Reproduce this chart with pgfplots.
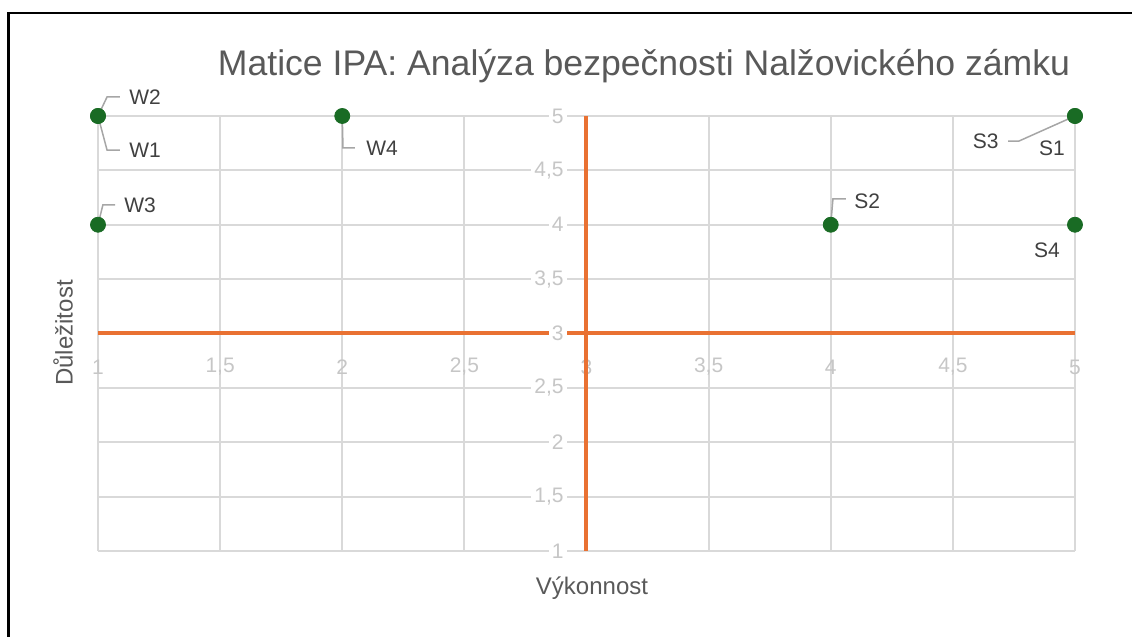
\documentclass[border=0pt]{standalone}
\usepackage{fontspec}
\setmainfont{Liberation Sans}
\usepackage{pgfplots}
\pgfplotsset{compat=1.18}
\definecolor{gridc}{HTML}{D9D9D9}
\definecolor{tickc}{HTML}{C6C6C6}
\definecolor{orangec}{HTML}{E97132}
\definecolor{greenc}{HTML}{196B24}
\definecolor{textc}{HTML}{595959}
\definecolor{leadc}{HTML}{A6A6A6}
\definecolor{labc}{HTML}{404040}
\begin{document}
\begin{tikzpicture}
\draw[line width=1.2pt] (4.25pt,0) -- (4.25pt,312pt) -- (566pt,312pt);
\begin{axis}[
  set layers=standard,
  at={(49pt,43pt)}, anchor=south west, scale only axis,
  width=488.5pt, height=217.5pt,
  xmin=1, xmax=5, ymin=1, ymax=5,
  axis line style={draw=none}, tick style={draw=none},
  xtick={1,1.5,2,2.5,3,3.5,4,4.5,5},
  ytick={1,1.5,2,2.5,3,3.5,4,4.5,5},
  grid=major, grid style={gridc, line width=1pt},
  clip=false,
  /pgf/number format/use comma,
  /pgf/number format/assume math mode=true,
  xticklabel style={anchor=center, yshift=92pt, font=\fontsize{10.5}{12}\selectfont, text=tickc},
  yticklabel style={anchor=east, xshift=234.5pt, fill=white, inner xsep=1.5pt, inner ysep=0.5pt, font=\fontsize{10.5}{12}\selectfont, text=tickc},
]
% quadrant lines at the means
\addplot[on layer=axis ticks, orangec, line width=2pt] coordinates {(1,3) (5,3)};
\addplot[orangec, line width=2pt] coordinates {(3,1) (3,5)};
% data points (Vykonnost, Dulezitost)
\addplot[only marks, mark=*, mark size=3.75pt, color=greenc, mark options={fill=greenc, draw=greenc}] table {
x y
1 5
1 5
1 4
2 5
5 5
4 4
5 5
5 4
};
% leader lines
\draw[leadc, line width=0.75pt] (axis cs:1,5) -- (axis cs:1.037,5.175) -- (axis cs:1.090,5.175);
\draw[leadc, line width=0.75pt] (axis cs:1,5) -- (axis cs:1.037,4.687) -- (axis cs:1.090,4.687);
\draw[leadc, line width=0.75pt] (axis cs:1,4) -- (axis cs:1.020,4.182) -- (axis cs:1.070,4.182);
\draw[leadc, line width=0.75pt] (axis cs:2,5) -- (axis cs:2.003,4.706) -- (axis cs:2.052,4.706);
\draw[leadc, line width=0.75pt] (axis cs:4,4) -- (axis cs:4.009,4.237) -- (axis cs:4.062,4.237);
\draw[leadc, line width=0.75pt] (axis cs:5,5) -- (axis cs:4.771,4.770) -- (axis cs:4.726,4.770);
% labels
\node[inner sep=0pt, font=\fontsize{10.5}{12}\selectfont, text=labc, anchor=west] at (axis cs:1.127,5.175) {W2};
\node[inner sep=0pt, font=\fontsize{10.5}{12}\selectfont, text=labc, anchor=west] at (axis cs:1.127,4.687) {W1};
\node[inner sep=0pt, font=\fontsize{10.5}{12}\selectfont, text=labc, anchor=west] at (axis cs:1.106,4.182) {W3};
\node[inner sep=0pt, font=\fontsize{10.5}{12}\selectfont, text=labc, anchor=west] at (axis cs:2.097,4.706) {W4};
\node[inner sep=0pt, font=\fontsize{10.5}{12}\selectfont, text=labc, anchor=west] at (axis cs:4.095,4.218) {S2};
\node[inner sep=0pt, font=\fontsize{10.5}{12}\selectfont, text=labc, anchor=east] at (axis cs:4.689,4.770) {S3};
\node[inner sep=0pt, font=\fontsize{10.5}{12}\selectfont, text=labc, anchor=center] at (axis cs:4.906,4.706) {S1};
\node[inner sep=0pt, font=\fontsize{10.5}{12}\selectfont, text=labc, anchor=center] at (axis cs:4.885,3.768) {S4};
\end{axis}
\node[font=\fontsize{17.8}{21}\selectfont, text=textc] at (322pt,285.5pt) {Matice IPA: Analýza bezpečnosti Nalžovického zámku};
\node[font=\fontsize{12}{14}\selectfont, text=textc] at (296pt,24.5pt) {Výkonnost};
\node[rotate=90, font=\fontsize{12}{14}\selectfont, text=textc] at (31.5pt,152pt) {Důležitost};
\pgfresetboundingbox
\useasboundingbox (0,0) rectangle (566pt,318.5pt);
\end{tikzpicture}
\end{document}
